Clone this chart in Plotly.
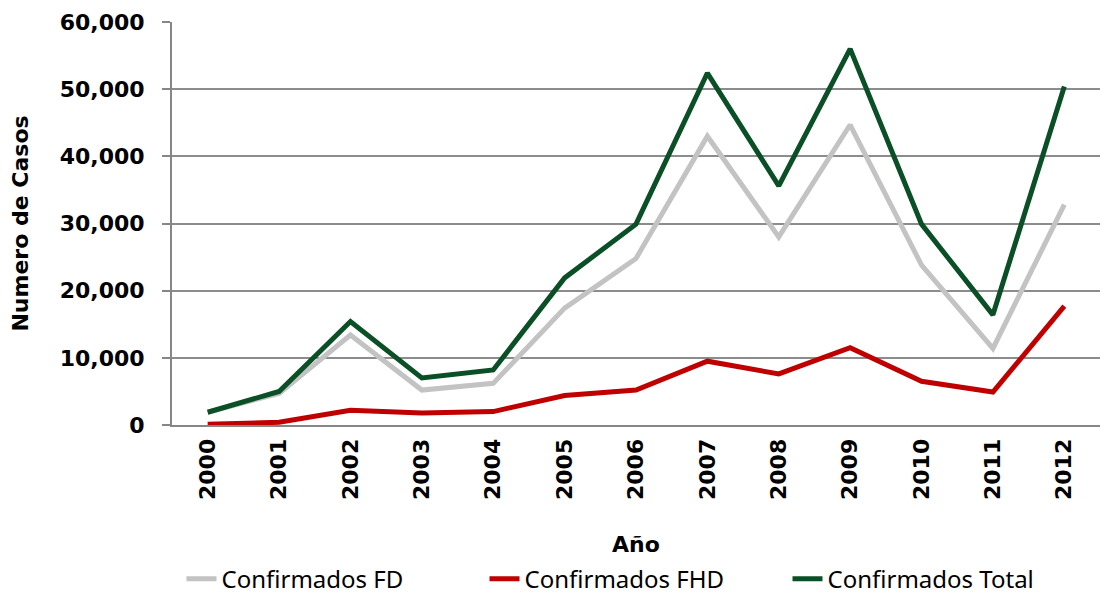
import plotly.graph_objects as go

years = ["2000", "2001", "2002", "2003", "2004", "2005", "2006", "2007", "2008", "2009", "2010", "2011", "2012"]
fd = [1900, 4700, 13400, 5200, 6200, 17400, 24800, 43000, 28000, 44700, 23800, 11400, 32800]
fhd = [100, 400, 2200, 1800, 2000, 4400, 5200, 9500, 7600, 11500, 6500, 4900, 17700]
total = [1900, 5000, 15400, 7000, 8200, 21900, 29900, 52400, 35600, 56000, 29900, 16400, 50400]

series = [
    ("Confirmados FD", fd, "#C3C3C3"),
    ("Confirmados FHD", fhd, "#C00000"),
    ("Confirmados Total", total, "#0B4F27"),
]

fig = go.Figure()
for name, vals, col in series:
    fig.add_trace(go.Scatter(x=years, y=vals, name=name, mode="lines",
                             line=dict(color=col, width=5)))

# page body has an 8px margin, so the figure is sized/offset to compensate
fig.update_layout(
    width=1105, height=590,
    margin=dict(l=164, r=13, t=14, b=173),
    plot_bgcolor="white", paper_bgcolor="white",
    font=dict(family="DejaVu Sans", color="black"),
    showlegend=True,
    legend=dict(orientation="h", x=0.5, xanchor="center",
                yref="container", y=0.032, yanchor="middle",
                font=dict(family="Noto Sans", size=24, color="black"),
                entrywidth=258, tracegroupgap=0),
    xaxis=dict(
        type="category", range=[-0.5, 12.5], automargin=False,
        tickangle=-90, tickfont=dict(family="DejaVu Sans", size=22, color="black", weight="bold"),
        ticklabelstandoff=3,
        showgrid=False, showline=True, linecolor="#868686", linewidth=2,
        ticks="", title=dict(text="<b>Año</b>", font=dict(size=22), standoff=42),
    ),
    yaxis=dict(
        range=[0, 60000], tickvals=[0, 10000, 20000, 30000, 40000, 50000, 60000],
        automargin=False,
        tickformat=",", tickfont=dict(family="DejaVu Sans", size=22, color="black", weight="bold"),
        ticklabelstandoff=13,
        showgrid=True, gridcolor="#8C8C8C", gridwidth=1.5,
        showline=True, linecolor="#868686", linewidth=2,
        ticks="outside", ticklen=8, tickcolor="#868686", tickwidth=1.5,
        zeroline=False,
        title=dict(text="<b>Numero de Casos</b>", font=dict(size=22), standoff=28),
    ),
)

fig.write_html("out.html")
